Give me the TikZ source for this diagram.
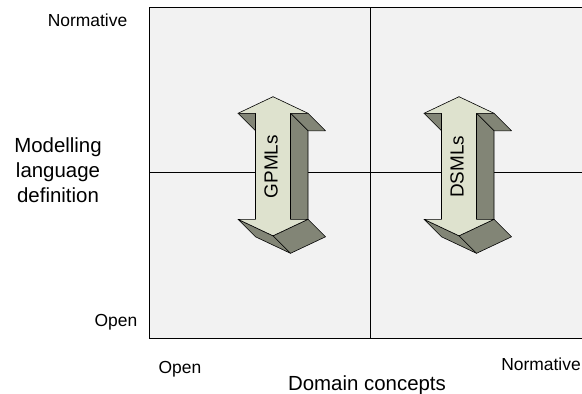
\documentclass[tikz,border=0pt]{standalone}
\usepackage{fontspec}
\setmainfont{Liberation Sans}
\definecolor{panel}{RGB}{242,242,242}
\definecolor{arrowfront}{RGB}{222,226,206}
\definecolor{arrowside}{RGB}{130,133,118}
\tikzset{
  face/.style={draw=black, line width=0.6pt, line join=round, fill=arrowside},
  frontface/.style={face, fill=arrowfront},
  smalllabel/.style={font=\fontsize{17.5}{21}\selectfont, inner sep=0pt},
  biglabel/.style={font=\fontsize{20.5}{25}\selectfont, inner sep=0pt, align=center},
}
\begin{document}
\begin{tikzpicture}[x=1bp,y=-1bp]
        \useasboundingbox (0,0) rectangle (582,393);
        % quadrants
        \fill[panel] (149,7) rectangle (584,338);
        \draw[line width=0.8pt] (584,7) -- (149,7) -- (149,338) -- (584,338);
        \draw[line width=0.8pt] (370.5,7) -- (370.5,338);
        \draw[line width=0.8pt] (149,172.5) -- (584,172.5);
        % 3d double arrows
        \foreach \cx/\lbl in {273/GPMLs,459/DSMLs}{
            \draw[face] (\cx-35,113.3) -- (\cx-17.5,113.3) -- (\cx,130.8) -- (\cx-17.5,130.8) -- cycle;
            \draw[face] (\cx+17.5,113.3) -- (\cx+35,113.3) -- (\cx+52.5,130.8) -- (\cx+35,130.8) -- cycle;
            \draw[face] (\cx+17.5,113.3) -- (\cx+17.5,219.3) -- (\cx+35,236.8) -- (\cx+35,130.8) -- cycle;
            \draw[face] (\cx,235.8) -- (\cx-35,219.3) -- (\cx-17.5,236.8) -- (\cx+17.5,253.3) -- cycle;
            \draw[face] (\cx+35,219.3) -- (\cx,235.8) -- (\cx+17.5,253.3) -- (\cx+52.5,236.8) -- cycle;
            \draw[frontface] (\cx,96.7) -- (\cx+35,113.3) -- (\cx+17.5,113.3) -- (\cx+17.5,219.3)
                -- (\cx+35,219.3) -- (\cx,235.8) -- (\cx-35,219.3) -- (\cx-17.5,219.3)
                -- (\cx-17.5,113.3) -- (\cx-35,113.3) -- cycle;
            \node[rotate=90, font=\fontsize{19}{22}\selectfont, inner sep=0pt] (\lbl) at (\cx-2,166.7) {\lbl};
        }
        % axis labels
        \node[smalllabel, anchor=base] (ynormative) at (87.5,26.7) {Normative};
        \node[smalllabel, anchor=base] (yopen) at (116,326) {Open};
        \node[biglabel] (yaxis) at (58,170.4) {Modelling\\language\\definition};
        \node[smalllabel, anchor=base] (xopen) at (180,373.5) {Open};
        \node[smalllabel, anchor=base] (xnormative) at (541,370) {Normative};
        \node[biglabel, anchor=base] (xaxis) at (367,390) {Domain concepts};
\end{tikzpicture}
\end{document}
